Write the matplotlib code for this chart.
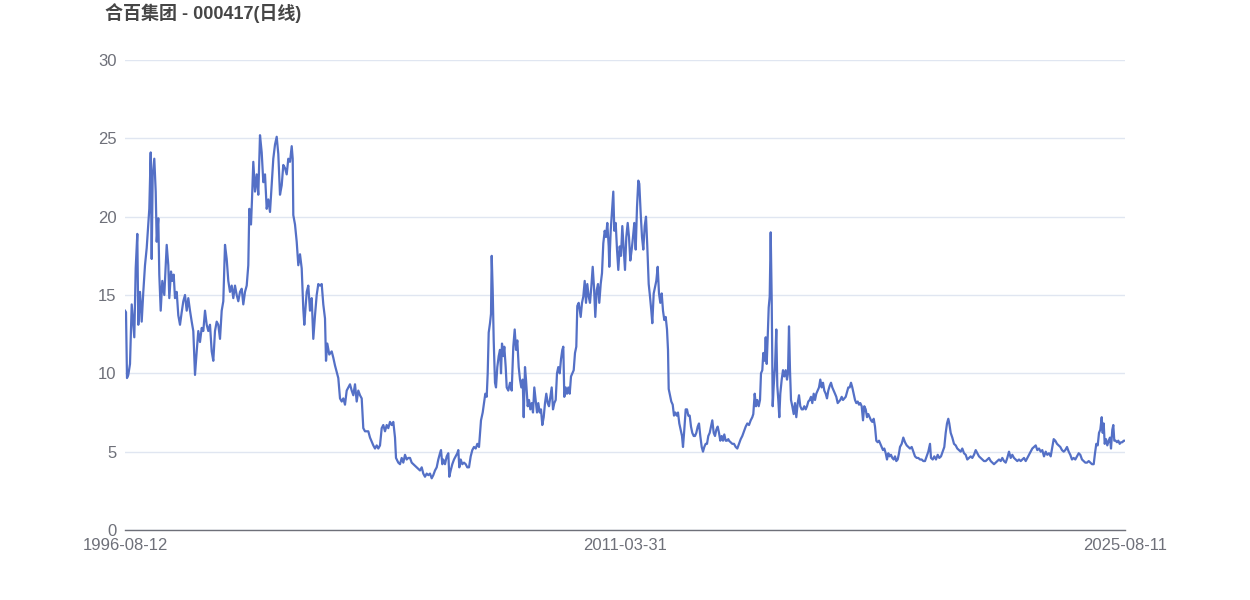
import matplotlib
matplotlib.use("Agg")
import matplotlib.pyplot as plt

plt.rcParams["font.family"] = ["Liberation Sans", "Noto Sans CJK SC", "DejaVu Sans"]

title = "合百集团 - 000417(日线)"
x_labels = ["1996-08-12", "2011-03-31", "2025-08-11"]

# position along the period in per-mille (0 = first day, 1000 = last day)
t = [
    0, 1, 2, 3.3, 5, 6.7, 9.3, 10.7, 12.3, 13.3, 15, 16.7, 18.3, 20, 21.7, 23.3, 24.3, 25.7,
    26.7, 27.7, 29.3, 30.7, 31.7, 33.3, 34.3, 35.7, 37.3, 39.3, 40.7, 41.7, 43.3, 44.3, 46,
    47.3, 48.7, 50, 51.7, 53.3, 55, 56.7, 58.3, 60, 61.7, 63.3, 65, 66.7, 68.3, 70, 71.7,
    73.3, 75, 76.7, 78.3, 80, 81.7, 83.3, 85, 86.7, 88.3, 90, 91.7, 93.3, 95, 96.7, 98.3,
    100, 101.7, 103.3, 105, 106.7, 108.3, 110, 111.7, 113.3, 115, 116.7, 118.3, 120, 121.7,
    123.3, 124.3, 126, 127, 128.3, 130, 131.7, 133.3, 135, 136.7, 138.3, 140, 141.7, 143.3,
    145, 146.7, 148.3, 150, 151.7, 153.3, 155, 156.7, 158.3, 160, 161.7, 163.3, 165, 166.7,
    167.7, 168.3, 170, 171.7, 173.3, 175, 176.7, 178.3, 179.3, 181.7, 183.3, 185, 186.7,
    188.3, 190, 191.7, 193.3, 195, 196.7, 198.3, 200, 201, 202.3, 204.3, 206.7, 208.3, 210,
    211.7, 213.3, 215, 216.7, 218.3, 220, 221.7, 223.3, 225, 226.7, 228.3, 230, 231.7, 233.3,
    235, 236.7, 238.3, 240, 243.3, 245, 248.3, 250, 251.7, 253.3, 255, 256.7, 258.3, 260,
    261.7, 263.3, 265, 266.7, 268.3, 270, 271, 273.3, 275, 276.7, 278.3, 280, 281.7, 283.3,
    285, 286.7, 288.3, 290, 291.7, 295, 296.7, 298.3, 300, 301.7, 303.3, 305, 306.7, 308.3,
    310, 311.7, 313.3, 315, 316, 317.3, 318.3, 320, 321.7, 323.3, 324.3, 325.7, 327.3, 329,
    330.7, 332.3, 333.3, 334.3, 335.7, 337.3, 339, 340.7, 342.3, 344, 345.7, 347.3, 349,
    350.7, 352.3, 354, 355, 356, 357.7, 359, 360.3, 361.7, 362.7, 363.7, 365, 366, 366.7,
    367.7, 368.7, 370, 371, 372.3, 373.7, 375, 376, 377, 378.3, 379.3, 380.7, 381.7, 383.3,
    385, 386.7, 388.3, 389.7, 391, 392.3, 393.7, 395, 396.3, 397.7, 398.7, 400, 401, 402.7,
    404, 405.3, 406.7, 408, 409.3, 410.7, 412, 413.3, 414.7, 416, 417.3, 418.7, 420, 421.3,
    422.7, 424, 425.3, 426.7, 428, 429.3, 430.7, 432, 433.3, 434.7, 436, 437.3, 438.3, 439.3,
    440.7, 442, 443.3, 444.7, 446, 447.3, 448.7, 450, 451.3, 452.3, 453.7, 455.7, 457, 458.3,
    459.7, 461, 462.3, 463.7, 465, 466.3, 467.7, 469, 470.3, 471.7, 473, 474.3, 475.7, 477,
    478.3, 479.7, 481, 482.3, 483.7, 484.3, 485.7, 487, 488.3, 489.3, 490.7, 492, 493.3,
    494.7, 496, 497.3, 498.7, 500, 501.3, 502.7, 504, 505.3, 506.7, 508, 509.3, 510.7, 512,
    513.3, 514.3, 515.7, 517, 518.3, 519.7, 521, 522.3, 523.7, 525, 526.3, 527.3, 528.7, 530,
    531.3, 532.7, 534, 535.3, 536.7, 538, 539.3, 540.7, 542, 543, 543.7, 545, 546.3, 547.7,
    549, 550.3, 551.7, 553, 554.3, 555.7, 557, 558, 559.3, 560.7, 562, 563.3, 564.7, 566,
    567.3, 568.7, 570, 571.3, 572.7, 574, 575.3, 576.7, 578, 579.3, 580.7, 582, 583.3, 584.7,
    586, 587.3, 588.7, 590, 591.3, 592.7, 594, 595.3, 596.7, 598, 599.3, 600.7, 602, 603.3,
    604, 605.7, 607.3, 609, 610.7, 612.3, 614, 615.7, 617.3, 619, 620.7, 622.3, 624, 625.7,
    627.3, 628.3, 629.7, 631, 632.3, 633.7, 635, 636, 637.3, 638.3, 639.7, 640.7, 641.7,
    642.7, 643.7, 644.7, 645.7, 646.7, 647.7, 648.7, 650, 651.3, 652.3, 653.3, 654.3, 655.3,
    656.7, 658, 659.3, 660.7, 662, 663, 664, 665, 666, 667.3, 668.7, 670, 671.3, 672.7, 674,
    675.3, 676.7, 678, 679.3, 680.7, 682, 683.3, 684.7, 686, 687.3, 688.7, 690, 691.3, 692.7,
    694, 695.3, 696.7, 698, 699.3, 700.7, 702, 703.3, 704.7, 706, 707.3, 708.7, 710, 711.3,
    712.7, 714, 715.3, 716.7, 718, 719.3, 720.7, 722, 723.3, 724.7, 726, 727.3, 728.7, 730,
    731.3, 732.7, 734, 735.3, 736.7, 738, 739.3, 740.7, 742, 743.3, 744.7, 746, 747.3, 748.7,
    750, 751.3, 752.7, 754, 755.3, 756.7, 758, 759.3, 760.7, 762, 763.3, 764.7, 766, 767.3,
    768.7, 770, 771.3, 772.7, 774, 775, 776.7, 778.3, 780, 781.7, 783.3, 785, 786.7, 788.3,
    790, 791.7, 793.3, 795, 796.7, 798.3, 800, 801.7, 803.3, 805, 806, 807.7, 809.3, 811,
    812.7, 814.3, 816, 817.7, 819.3, 820.7, 822, 823.3, 824.3, 825.7, 827.3, 829, 830.7,
    832.3, 834, 835.7, 837.3, 839, 840.7, 842.3, 844, 845.7, 847.3, 849, 850.7, 852.3, 854,
    855.7, 857.3, 859, 860.7, 862.3, 864, 865.7, 867.3, 869, 870.7, 872.3, 874, 875.7, 877.3,
    879, 880.7, 882.3, 884, 885.7, 887.3, 889, 890.7, 892.3, 894, 895.7, 897.3, 899, 900.7,
    902.3, 904, 905.7, 907.3, 909, 910.7, 912.3, 914, 915.7, 917.3, 919, 920.7, 922.3, 924,
    925.7, 927.3, 928.7, 930.3, 932, 933.7, 935.3, 937, 938.7, 940.3, 942, 943.7, 945.3, 947,
    948.7, 950.3, 952, 953.7, 955.3, 957, 958.7, 960.3, 962, 963.7, 965.3, 967, 968.7, 970,
    971.3, 972.7, 974, 975.3, 976.7, 977.7, 978.7, 979.7, 981, 982.3, 983.7, 985, 986, 987.3,
    988.3, 989.3, 990.7, 992, 993.3, 994.7, 996, 997.3, 998.7, 1000,
]

price = [
    14.0, 13.9, 9.7, 9.9, 10.6, 14.4, 12.3, 16.7, 18.9, 13.1, 15.2, 13.3, 15.2, 16.9, 18.0, 19.5, 20.5, 24.1,
    17.3, 22.7, 23.7, 21.6, 18.4, 19.9, 16.3, 14.0, 15.9, 15.0, 16.9, 18.2, 16.9, 14.8, 16.5,
    15.9, 16.3, 14.8, 15.2, 13.7, 13.1, 13.9, 14.6, 15.0, 14.0, 14.8, 14.0, 13.3, 12.7, 9.9, 11.4,
    12.7, 12.0, 12.9, 12.7, 14.0, 13.1, 12.7, 13.1, 11.4, 10.8, 12.7, 13.3, 13.1, 12.2, 14.0, 14.6,
    18.2, 17.3, 15.9, 15.2, 15.6, 14.8, 15.6, 15.0, 14.6, 15.2, 15.4, 14.4, 15.2, 15.6,
    16.9, 20.5, 19.5, 21.1, 23.5, 21.6, 22.7, 21.4, 25.2, 24.1, 22.2, 22.7, 20.5, 21.1,
    20.3, 22.0, 23.7, 24.6, 25.1, 24.0, 21.4, 22.0, 23.3, 23.1, 22.7, 23.7, 23.5, 24.5,
    23.7, 20.1, 19.5, 18.4, 16.9, 17.6, 16.7, 14.1, 13.1, 15.2, 15.6, 14.0, 14.8,
    12.2, 13.7, 15.0, 15.7, 15.6, 15.7, 14.4, 13.5, 10.8, 11.9, 11.2, 11.4, 11.0, 10.5,
    10.1, 9.7, 8.4, 8.2, 8.4, 8.0, 8.9, 9.1, 9.3, 8.9, 8.6, 9.3, 8.2, 8.9,
    8.6, 8.4, 6.5, 6.3, 6.3, 5.9, 5.4, 5.2, 5.4, 5.2, 5.4, 6.5, 6.7, 6.3,
    6.7, 6.5, 6.9, 6.7, 6.9, 5.9, 4.6, 4.3, 4.2, 4.6, 4.3, 4.8, 4.5, 4.6,
    4.6, 4.3, 4.2, 4.1, 4.0, 3.8, 4.0, 3.6, 3.4, 3.6, 3.5, 3.6, 3.3, 3.5,
    3.8, 4.0, 4.5, 4.9, 5.1, 4.2, 4.5, 4.2, 4.7, 4.9, 3.4, 3.8, 4.2, 4.5,
    4.7, 4.9, 5.1, 4.0, 4.5, 4.2, 4.3, 4.2, 4.0, 4.0, 4.7, 5.1, 5.3,
    5.2, 5.5, 5.3, 6.2, 7.0, 7.5, 8.1, 8.7, 8.5, 10.0, 12.6, 13.2, 13.8, 17.5,
    15.3, 12.1, 9.4, 9.1, 10.4, 11.1, 11.5, 10.0, 11.9, 11.1, 11.7, 10.4, 9.1, 8.9,
    9.4, 8.9, 11.7, 12.8, 11.5, 12.1, 10.4, 9.6, 9.1, 9.6, 7.2, 10.4, 9.6, 7.9,
    8.3, 7.7, 8.1, 7.5, 9.1, 8.3, 7.5, 8.1, 7.5, 7.7, 6.7, 7.2, 8.1, 8.7,
    8.1, 7.9, 8.5, 9.1, 7.7, 8.1, 8.3, 10.0, 10.4, 10.0, 10.9, 11.5, 11.7, 8.5,
    9.1, 8.7, 9.1, 8.7, 9.8, 10.0, 10.2, 11.3, 11.7, 14.3, 14.5, 13.6, 14.5, 14.9,
    15.9, 14.5, 15.7, 14.9, 14.5, 15.5, 16.8, 15.5, 13.6, 15.3, 15.7, 14.5, 15.7, 16.4,
    18.3, 19.1, 18.7, 19.6, 18.1, 16.8, 19.1, 20.4, 21.6, 19.1, 19.6, 17.9, 16.6,
    18.1, 17.5, 19.4, 17.9, 16.6, 18.7, 19.6, 18.7, 17.2, 17.9, 18.7, 19.6, 17.9, 20.6,
    22.3, 22.1, 20.2, 18.7, 17.9, 19.4, 20.0, 18.1, 15.7, 14.9, 14.0, 13.2, 15.1, 15.5,
    15.9, 16.8, 15.1, 14.5, 15.1, 14.0, 13.4, 13.6, 12.8, 11.5, 9.0, 8.6, 8.2, 8.0,
    7.3, 7.5, 7.3, 7.5, 6.8, 6.4, 6.0, 5.3, 6.4, 7.7, 7.7, 7.3, 7.3, 6.6,
    6.2, 6.0, 6.0, 6.2, 6.6, 6.8, 6.0, 5.3, 5.0, 5.3, 5.5, 5.5, 6.0, 6.2,
    6.6, 7.0, 6.2, 6.0, 6.4, 6.6, 6.2, 5.7, 6.0, 5.7, 6.1, 5.7, 5.7, 5.8,
    5.7, 5.6, 5.5, 5.5, 5.3, 5.2, 5.5, 5.8, 6.0, 6.3, 6.6, 6.8, 6.7, 7.0,
    7.2, 7.4, 8.7, 7.9, 8.3, 7.9, 8.3, 10.0, 10.2, 11.3, 10.8, 12.3, 10.6,
    12.3, 14.2, 14.9, 19.0, 14.7, 7.9, 9.2, 10.4, 12.8, 9.2, 8.3, 7.2, 8.7,
    9.6, 10.2, 9.8, 10.2, 9.6, 10.0, 13.0, 10.2, 8.3, 7.9, 7.4, 8.1, 7.2, 8.1, 8.6,
    7.9, 7.7, 7.7, 7.9, 7.7, 7.9, 8.2, 8.3, 8.5, 8.1, 8.7, 8.3, 8.7, 8.9,
    9.1, 9.6, 9.1, 9.4, 8.9, 8.7, 8.4, 8.9, 9.2, 9.4, 9.1, 8.9, 8.7, 8.5,
    8.1, 8.2, 8.3, 8.5, 8.3, 8.4, 8.5, 8.8, 9.1, 9.1, 9.4, 9.1, 8.7, 8.3,
    8.1, 8.2, 8.0, 8.1, 7.9, 7.0, 7.9, 7.7, 7.2, 7.4, 7.2, 7.0, 6.9, 7.1,
    6.6, 5.7, 5.6, 5.7, 5.5, 5.3, 5.1, 5.2, 4.9, 4.5, 4.9, 4.7, 4.8, 4.6,
    4.5, 4.7, 4.4, 4.5, 4.9, 5.3, 5.5, 5.9, 5.6, 5.4, 5.3, 5.2, 5.3, 5.0,
    4.7, 4.6, 4.6, 4.5, 4.5, 4.4, 4.4, 4.7, 5.0, 5.5, 4.6, 4.5, 4.7, 4.5,
    4.8, 4.6, 4.7, 5.0, 5.3, 6.2, 6.8, 7.1, 6.8, 6.2, 5.9, 5.5, 5.4,
    5.2, 5.1, 5.0, 5.2, 4.9, 4.8, 4.5, 4.6, 4.7, 4.6, 4.8, 5.1, 4.9, 4.7,
    4.6, 4.5, 4.4, 4.4, 4.5, 4.6, 4.4, 4.3, 4.2, 4.3, 4.4, 4.5, 4.4, 4.6,
    4.4, 4.3, 4.6, 5.0, 4.6, 4.8, 4.6, 4.5, 4.4, 4.5, 4.4, 4.5, 4.6, 4.4,
    4.6, 4.8, 5.0, 5.2, 5.3, 5.4, 5.1, 5.2, 5.0, 5.1, 4.7, 5.0, 4.8, 4.9,
    4.7, 5.3, 5.8, 5.7, 5.5, 5.4, 5.3, 5.1, 5.0, 5.1, 5.3, 5.0, 4.8, 4.5,
    4.6, 4.5, 4.7, 4.9, 4.8, 4.5, 4.4, 4.3, 4.3, 4.4, 4.3, 4.2, 4.2, 4.9,
    5.5, 5.4, 6.2, 6.4, 7.2, 6.2, 6.8, 5.5, 5.8, 5.4, 5.7, 5.9, 5.2, 6.4,
    6.7, 5.7, 5.7, 5.6, 5.7, 5.5, 5.6, 5.6, 5.7, 5.7,
]

n = min(len(t), len(price))

fig = plt.figure(figsize=(12.5, 6), dpi=100)
ax = fig.add_axes([0.1, 70 / 600, 0.8, 470 / 600])

ax.plot(t[:n], price[:n], color="#5470c6", linewidth=1.6, solid_joinstyle="round")

ax.set_xlim(0, 1000)
ax.set_ylim(0, 30)
ax.set_yticks([0, 5, 10, 15, 20, 25, 30])
ax.set_xticks([0, 500, 1000])
ax.set_xticklabels(x_labels)
ax.tick_params(axis="both", length=0, labelsize=12, colors="#6e7079")
ax.tick_params(axis="y", pad=6)
ax.tick_params(axis="x", pad=6)

ax.grid(axis="y", color="#e0e6f1", linewidth=1)
ax.set_axisbelow(True)
for side in ["top", "right", "left"]:
    ax.spines[side].set_visible(False)
ax.spines["bottom"].set_color("#6e7079")
ax.spines["bottom"].set_linewidth(1)

fig.text(0.084, 0.978, title, fontsize=13, fontweight="bold", color="#464646",
         ha="left", va="center")

fig.savefig("out.png", dpi=100)
